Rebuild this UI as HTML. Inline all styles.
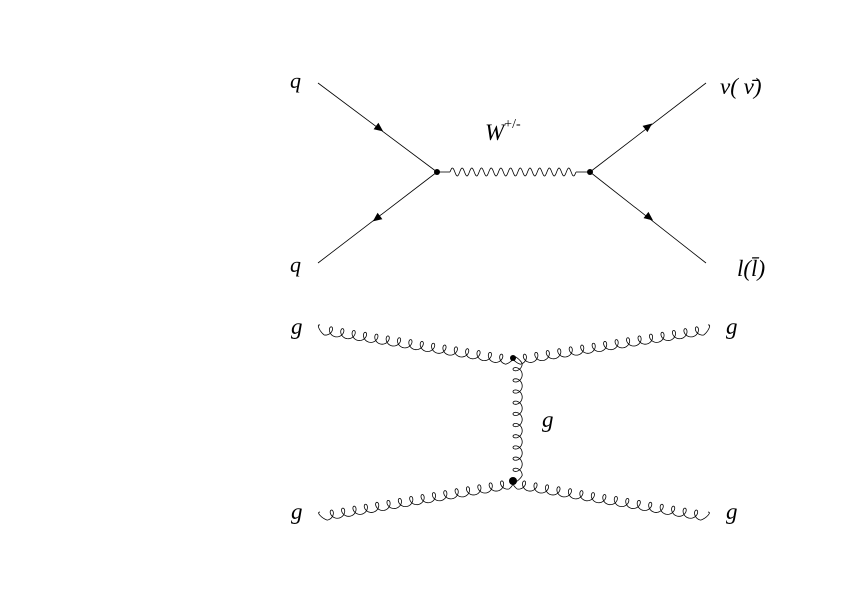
<!DOCTYPE html>
<html><head><meta charset="utf-8"><style>
body{margin:0;background:#fff}
svg text{font-family:"Liberation Serif",serif;font-style:italic;fill:#000}
</style></head><body>
<svg width="842" height="595" viewBox="0 0 842 595" xmlns="http://www.w3.org/2000/svg">
<g id="top" stroke="#000" stroke-width="0.8" fill="none">
<line x1="318" y1="83" x2="437" y2="172"/>
<line x1="318" y1="263" x2="437" y2="172"/>
<line x1="590" y1="172" x2="706" y2="83"/>
<line x1="590" y1="172" x2="706" y2="263"/>
<line x1="437" y1="172" x2="450" y2="172"/>
<line x1="576" y1="172" x2="590" y2="172"/>
<path id="wave"/>
</g>
<g fill="#000">
<polygon points="0,-4 9,0 0,4" transform="translate(376,126) rotate(36.8)"/>
<polygon points="0,-4 9,0 0,4" transform="translate(380,216) rotate(143.2)"/>
<polygon points="0,-4 9,0 0,4" transform="translate(645,129) rotate(-37.5)"/>
<polygon points="0,-4 9,0 0,4" transform="translate(646,215) rotate(38)"/>
</g>
<circle cx="437" cy="172" r="3"/>
<circle cx="590" cy="172" r="3"/>
<text x="290" y="88" font-size="22">q</text>
<text x="290" y="272" font-size="22">q</text>
<text x="485" y="140" font-size="23">W<tspan font-size="14" dy="-12" font-style="normal">+/-</tspan></text>
<text x="720" y="94" font-size="23" font-style="normal">ν(  ν̄)</text>
<text x="737" y="276" font-size="23">l(l̄)</text>
<g id="glu" stroke="#000" stroke-width="0.8" fill="none"></g>
<circle cx="513" cy="358" r="3"/>
<circle cx="513" cy="481" r="4"/>
<text x="291" y="334" font-size="23">g</text>
<text x="726" y="334" font-size="23">g</text>
<text x="291" y="519" font-size="23">g</text>
<text x="726" y="519" font-size="23">g</text>
<text x="542" y="427" font-size="23">g</text>
</svg>
<script>
(function(){
 var d="M450,172",x0=450,x1=576,n=13;
 for(var i=0;i<=200;i++){var t=i/200;var x=x0+(x1-x0)*t;var y=172-4*Math.sin(t*n*2*Math.PI);d+=" L"+x.toFixed(2)+","+y.toFixed(2);}
 document.getElementById('wave').setAttribute('d',d);
})();
function gluon(x0,y0,x1,y1,n,side,name){
 var dx=x1-x0,dy=y1-y0,L=Math.hypot(dx,dy),ux=dx/L,uy=dy/L,nx=-uy*side,ny=ux*side;
 var a=4.0,r=4.6,d="",N=n*40;
 for(var i=0;i<=N;i++){var t=i/N;var ph=t*n*2*Math.PI;
  var s=t*L - a*Math.sin(ph); var h=r*(1-Math.cos(ph))*Math.min(1,t*n*2,(1-t)*n*2+0.0001);
  var x=x0+ux*s+nx*h,y=y0+uy*s+ny*h;
  d+=(i?" L":"M")+x.toFixed(2)+","+y.toFixed(2);}
 var p=document.createElementNS('http://www.w3.org/2000/svg','path');
 p.setAttribute('d',d);
 
 
 document.getElementById('glu').appendChild(p);
}
gluon(320,325,513,356,17,1,'gluon-in-top');
gluon(513,356,708,325,17,1,'gluon-out-top');
gluon(513,358,513,481,11,-1,'gluon-exchange');
gluon(320,512,513,479,17,1,'gluon-in-bottom');
gluon(513,479,708,512,17,1,'gluon-out-bottom');
</script>
</body></html>
